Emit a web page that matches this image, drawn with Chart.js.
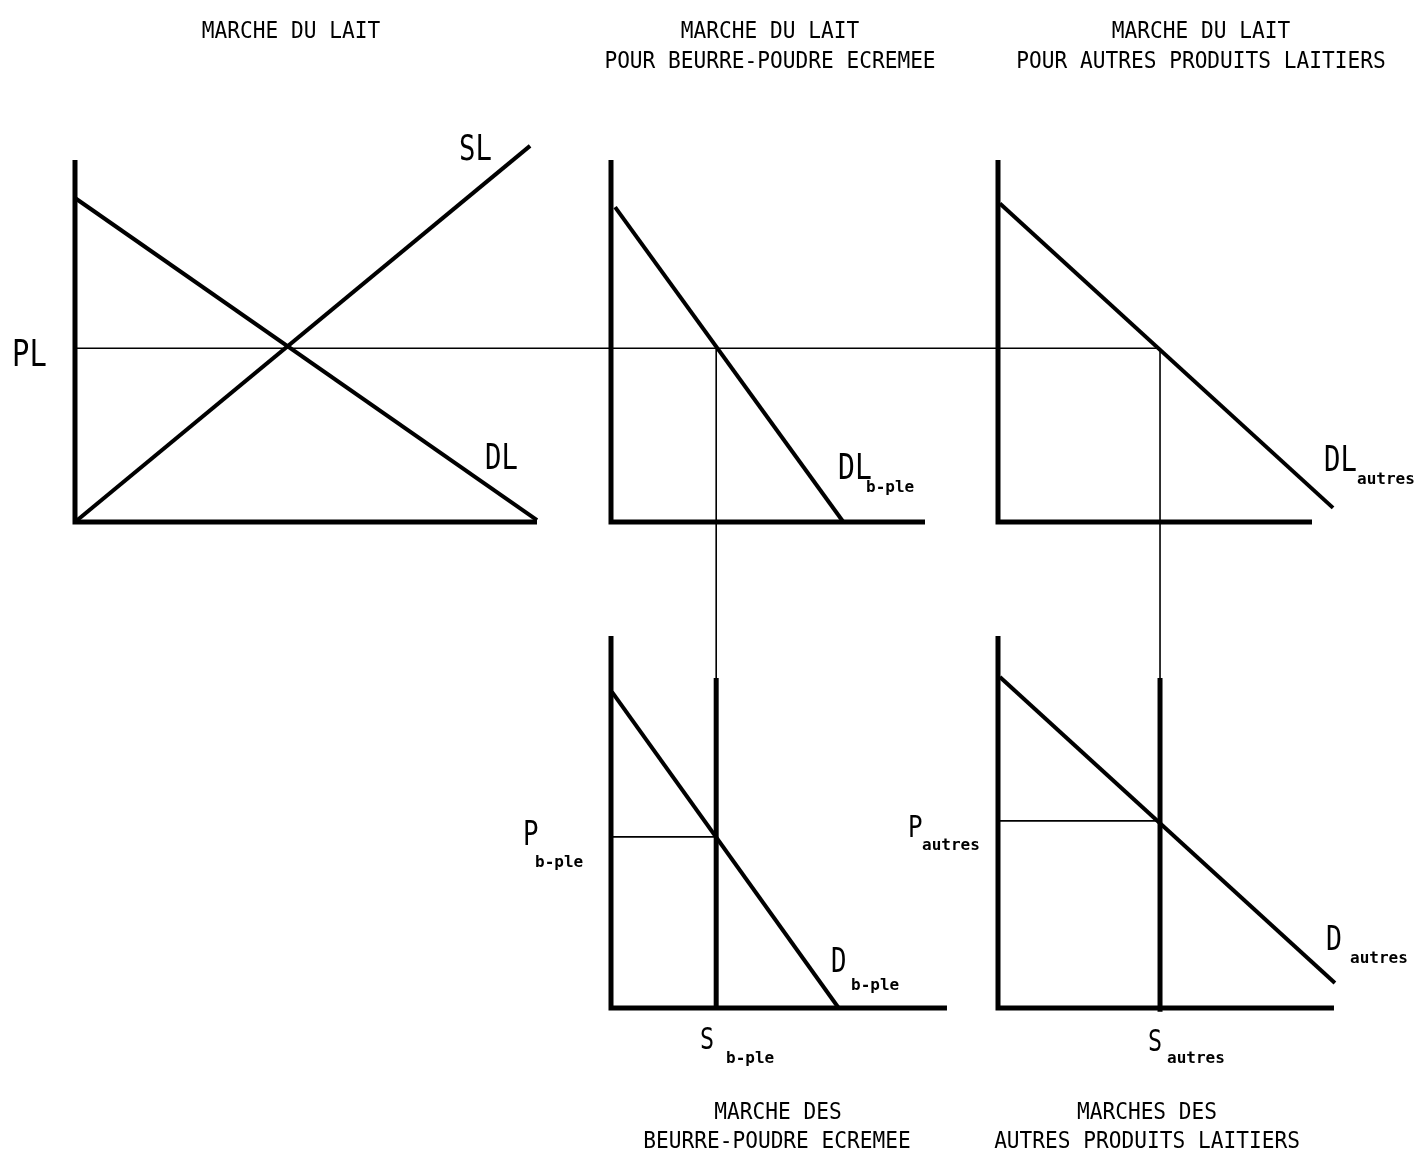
<!DOCTYPE html>
<html>
<head>
<meta charset="utf-8">
<script src="https://cdn.jsdelivr.net/npm/chart.js@4.4.1/dist/chart.umd.min.js"></script>
<style>
  html, body { margin: 0; padding: 0; background: #fff; }
  #wrap { width: 1417px; height: 1151px; }
</style>
</head>
<body>
<div id="wrap"><canvas id="lait" width="1417" height="1151"></canvas></div>
<script>
// prices and quantities, in diagram units (axes run 0..100)
const PL = 48;            // prix du lait
const qLait = 45.5;       // equilibre marche du lait
const qBple = 33.5;       // lait pour beurre-poudre = S b-ple
const qAutres = 51.6;     // lait pour autres produits = S autres
const pBple = 46;
const pAutres = 50.3;

const slQ = [0, 98.5],  slP = [0, 103.9];
const dlQ = [0, 100],   dlP = [89.5, 0.5];
const dlBpleQ = [1.3, 74],    dlBpleP = [87, 0];
const dlAutresQ = [0.6, 106.7], dlAutresP = [88, 3.9];
const dBpleQ = [0.3, 72.5],   dBpleP = [85, 0];
const dAutresQ = [0.6, 107.3], dAutresP = [89, 6.7];
const sTop = 88.7;

// axis extents
const axisTopQ = [100, 100, 100];   // panels 1,2,3
const axisBotQ = [107, 107];        // panels 4,5
const axisH = 100;

// layout: where value 0 sits on the page and pixels per unit
const W = 1417, H = 1151;
const frame = {
  xA: [75, 4.62], xB: [611, 3.14], xC: [998, 3.14],
  yTop: [522, 3.62], yBot: [1008, 3.72]
};
function xScale(f) { return { type: 'linear', display: false, min: -f[0] / f[1], max: (W - f[0]) / f[1] }; }
function yScale(f) { return { type: 'linear', display: false, min: -(H - f[0]) / f[1], max: f[0] / f[1] }; }

function seg(qs, ps, xID, yID, w) {
  return {
    data: qs.map((q, i) => ({ x: q, y: ps[i] })),
    xAxisID: xID, yAxisID: yID,
    showLine: true, borderColor: '#000', borderWidth: w,
    pointRadius: 0, borderJoinStyle: 'miter', borderCapStyle: 'butt', clip: false
  };
}
function axes(len, xID, yID) {
  return seg([0, 0, len], [axisH, 0, 0], xID, yID, 5);
}

const datasets = [
  axes(axisTopQ[0], 'xA', 'yTop'),
  axes(axisTopQ[1], 'xB', 'yTop'),
  axes(axisTopQ[2], 'xC', 'yTop'),
  axes(axisBotQ[0], 'xB', 'yBot'),
  axes(axisBotQ[1], 'xC', 'yBot'),
  seg(slQ, slP, 'xA', 'yTop', 4),
  seg(dlQ, dlP, 'xA', 'yTop', 4),
  seg(dlBpleQ, dlBpleP, 'xB', 'yTop', 4),
  seg(dlAutresQ, dlAutresP, 'xC', 'yTop', 4),
  seg(dBpleQ, dBpleP, 'xB', 'yBot', 4),
  seg(dAutresQ, dAutresP, 'xC', 'yBot', 4),
  seg([qBple, qBple], [0, sTop], 'xB', 'yBot', 5),
  seg([qAutres, qAutres], [-1, sTop], 'xC', 'yBot', 5),
  seg([0, qBple], [pBple, pBple], 'xB', 'yBot', 1.6),
  seg([0, qAutres], [pAutres, pAutres], 'xC', 'yBot', 1.6)
];

// thin lines that cross from one panel to another
const links = {
  id: 'links',
  beforeDatasetsDraw(chart) {
    const s = chart.scales, ctx = chart.ctx;
    ctx.save();
    ctx.strokeStyle = '#000';
    ctx.lineWidth = 1.6;
    ctx.beginPath();
    const y = s.yTop.getPixelForValue(PL);
    ctx.moveTo(s.xA.getPixelForValue(0), y);
    ctx.lineTo(s.xC.getPixelForValue(qAutres), y);
    [['xB', qBple], ['xC', qAutres]].forEach(([id, q]) => {
      const x = s[id].getPixelForValue(q);
      ctx.moveTo(x, y);
      ctx.lineTo(x, s.yBot.getPixelForValue(sTop));
    });
    ctx.stroke();
    ctx.restore();
  }
};

const MONO = '"DejaVu Sans Mono", "Liberation Mono", monospace';
const texts = [
  // titles
  ['MARCHE DU LAIT', 291, 38, 23, 0.92, 'center'],
  ['MARCHE DU LAIT', 770, 38, 23, 0.92, 'center'],
  ['POUR BEURRE-POUDRE ECREMEE', 770, 68, 23, 0.92, 'center'],
  ['MARCHE DU LAIT', 1201, 38, 23, 0.92, 'center'],
  ['POUR AUTRES PRODUITS LAITIERS', 1201, 68, 23, 0.92, 'center'],
  ['MARCHE DES', 778, 1119, 23, 0.92, 'center'],
  ['BEURRE-POUDRE ECREMEE', 777, 1148, 23, 0.92, 'center'],
  ['MARCHES DES', 1147, 1119, 23, 0.92, 'center'],
  ['AUTRES PRODUITS LAITIERS', 1147, 1148, 23, 0.92, 'center'],
  // curve and axis labels
  ['PL', 12, 366, 37, 0.78, 'left'],
  ['SL', 459, 160, 35, 0.78, 'left'],
  ['DL', 485, 469, 35, 0.78, 'left'],
  ['DL', 838, 479, 36, 0.78, 'left'],
  ['DL', 1324, 471, 35, 0.78, 'left'],
  ['P', 523, 845, 33, 0.78, 'left'],
  ['D', 831, 972, 33, 0.78, 'left'],
  ['S', 700, 1049, 30, 0.78, 'left'],
  ['P', 908, 837, 31, 0.78, 'left'],
  ['D', 1326, 950, 34, 0.78, 'left'],
  ['S', 1148, 1051, 30, 0.78, 'left']
];
const subs = [
  ['b-ple', 866, 492], ['autres', 1357, 484],
  ['b-ple', 535, 867], ['b-ple', 851, 990], ['b-ple', 726, 1063],
  ['autres', 922, 850], ['autres', 1350, 963], ['autres', 1167, 1063]
];
const labels = {
  id: 'labels',
  afterDraw(chart) {
    const ctx = chart.ctx;
    ctx.save();
    ctx.fillStyle = '#000';
    ctx.textBaseline = 'alphabetic';
    texts.forEach(([t, x, y, size, sx, align]) => {
      ctx.save();
      ctx.font = size + 'px ' + MONO;
      ctx.textAlign = align;
      ctx.translate(x, y);
      ctx.scale(sx, 1);
      ctx.fillText(t, 0, 0);
      ctx.restore();
    });
    ctx.font = 'bold 16px ' + MONO;
    ctx.textAlign = 'left';
    subs.forEach(([t, x, y]) => ctx.fillText(t, x, y));
    ctx.restore();
  }
};

new Chart(document.getElementById('lait'), {
  type: 'scatter',
  data: { datasets },
  options: {
    responsive: false,
    animation: false,
    events: [],
    layout: { padding: 0 },
    plugins: { legend: { display: false }, tooltip: { enabled: false } },
    scales: {
      xA: xScale(frame.xA), xB: xScale(frame.xB), xC: xScale(frame.xC),
      yTop: yScale(frame.yTop), yBot: yScale(frame.yBot)
    }
  },
  plugins: [links, labels]
});
</script>
</body>
</html>
